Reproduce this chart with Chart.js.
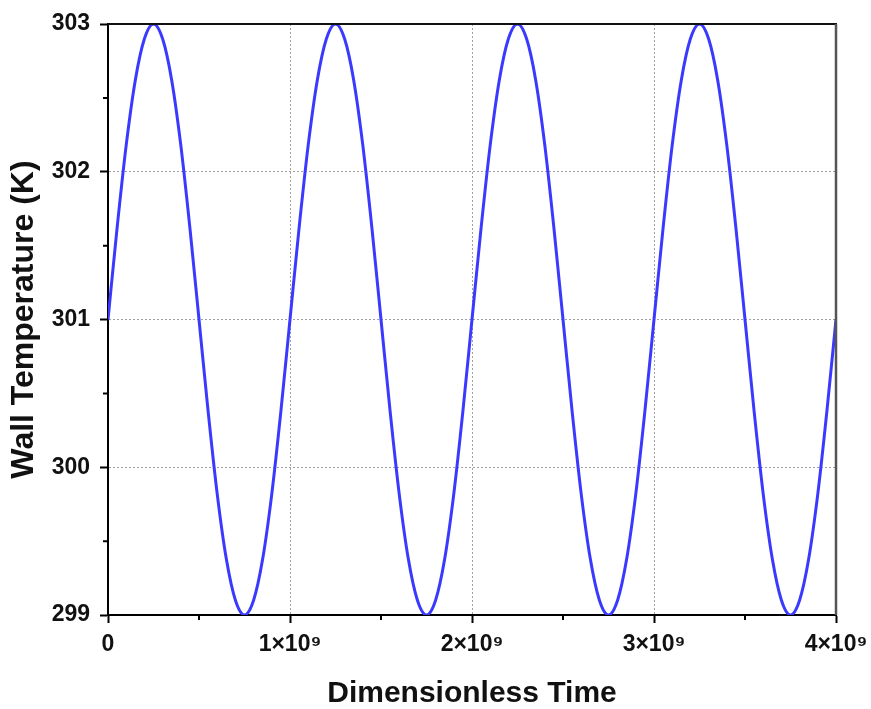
<!DOCTYPE html>
<html>
<head>
<meta charset="utf-8">
<script src="https://cdn.jsdelivr.net/npm/chart.js@4/dist/chart.umd.min.js"></script>
<style>
html,body{margin:0;padding:0;background:#fff;}
#wrap{width:871px;height:709px;position:relative;}
</style>
</head>
<body>
<div id="wrap"><canvas id="c" width="871" height="709"></canvas></div>
<script>
// Dimensionless time (units of 1e9)
const timeE9 = [
 0.00,0.05,0.10,0.15,0.20,0.25,0.30,0.35,0.40,0.45,0.50,0.55,0.60,0.65,0.70,0.75,0.80,0.85,0.90,0.95,
 1.00,1.05,1.10,1.15,1.20,1.25,1.30,1.35,1.40,1.45,1.50,1.55,1.60,1.65,1.70,1.75,1.80,1.85,1.90,1.95,
 2.00,2.05,2.10,2.15,2.20,2.25,2.30,2.35,2.40,2.45,2.50,2.55,2.60,2.65,2.70,2.75,2.80,2.85,2.90,2.95,
 3.00,3.05,3.10,3.15,3.20,3.25,3.30,3.35,3.40,3.45,3.50,3.55,3.60,3.65,3.70,3.75,3.80,3.85,3.90,3.95,
 4.00
];
// Wall temperature (K)
const wallTemp = [
 301.00,301.62,302.18,302.62,302.90,303.00,302.90,302.62,302.18,301.62,301.00,300.38,299.82,299.38,299.10,299.00,299.10,299.38,299.82,300.38,
 301.00,301.62,302.18,302.62,302.90,303.00,302.90,302.62,302.18,301.62,301.00,300.38,299.82,299.38,299.10,299.00,299.10,299.38,299.82,300.38,
 301.00,301.62,302.18,302.62,302.90,303.00,302.90,302.62,302.18,301.62,301.00,300.38,299.82,299.38,299.10,299.00,299.10,299.38,299.82,300.38,
 301.00,301.62,302.18,302.62,302.90,303.00,302.90,302.62,302.18,301.62,301.00,300.38,299.82,299.38,299.10,299.00,299.10,299.38,299.82,300.38,
 301.00
];
const xTickLabels = {0:'0',1:'1×10⁹',2:'2×10⁹',3:'3×10⁹',4:'4×10⁹'};
const yTickLabels = {299:'299',300:'300',301:'301',302:'302',303:'303'};

const xTitle = 'Dimensionless Time';
const yTitle = 'Wall Temperature (K)';

const points = timeE9.map((t,i)=>({x:t, y:wallTemp[i]}));

const isInt = v => Math.abs(v - Math.round(v)) < 1e-6;

const framePlugin = {
  id:'frame',
  afterDraw(chart){
    const {ctx, chartArea:a, scales} = chart;
    ctx.save();
    ctx.strokeStyle = '#000';
    ctx.lineWidth = 2;
    ctx.beginPath();
    scales.x.ticks.forEach(t=>{
      if(!isInt(t.value)){
        const px = scales.x.getPixelForValue(t.value);
        ctx.moveTo(px, a.bottom); ctx.lineTo(px, a.bottom+5);
      }
    });
    scales.y.ticks.forEach(t=>{
      if(!isInt(t.value)){
        const py = scales.y.getPixelForValue(t.value);
        ctx.moveTo(a.left, py); ctx.lineTo(a.left-5, py);
      }
    });
    ctx.stroke();
    ctx.beginPath();
    ctx.strokeStyle = '#111';
    ctx.lineWidth = 2;
    ctx.moveTo(a.left, a.top); ctx.lineTo(a.right+1, a.top);
    ctx.stroke();
    ctx.beginPath();
    ctx.strokeStyle = '#555';
    ctx.lineWidth = 2.5;
    ctx.moveTo(a.right, a.top); ctx.lineTo(a.right, a.bottom);
    ctx.stroke();
    ctx.restore();
  }
};

const gridColor = (ctx, lo, hi) => {
  const v = ctx.tick ? ctx.tick.value : null;
  if (v === null) return 'rgba(0,0,0,0)';
  return (isInt(v) && v > lo && v < hi) ? '#a0a0a0' : 'rgba(0,0,0,0)';
};
const tickColor = ctx => (ctx.tick && isInt(ctx.tick.value)) ? '#000' : 'rgba(0,0,0,0)';
const FONT = 'Liberation Sans, Arial, sans-serif';

new Chart(document.getElementById('c'), {
  type:'line',
  data:{ datasets:[{
    data: points,
    borderColor:'#3a3aff',
    borderWidth:3,
    pointRadius:0,
    fill:false,
    tension:0.4,
    cubicInterpolationMode:'monotone'
  }]},
  options:{
    responsive:false,
    animation:false,
    layout:{padding:{top:24,right:35,left:0,bottom:0}},
    plugins:{legend:{display:false},tooltip:{enabled:false}},
    scales:{
      x:{
        type:'linear', min:0, max:4,
        afterBuildTicks(s){ s.ticks = [0,0.5,1,1.5,2,2.5,3,3.5,4].map(v=>({value:v})); },
        afterFit(s){ s.height = 94; s.paddingLeft = 0; s.paddingRight = 0; },
        ticks:{
          autoSkip:false, maxRotation:0, padding:8,
          color:'#111',
          font:{family:FONT, size:23, weight:'bold'},
          callback:(v)=> isInt(v) ? xTickLabels[Math.round(v)] : ''
        },
        grid:{ color:c=>gridColor(c,0,4), lineWidth:1, tickLength:8, tickWidth:2, tickColor:tickColor, tickBorderDash:[] },
        border:{ display:true, color:'#000', width:2, dash:[2,2] },
        title:{ display:true, text:xTitle, color:'#111', padding:{top:4,bottom:0},
          font:{family:FONT, size:30, weight:'bold', lineHeight:1} }
      },
      y:{
        type:'linear', min:299, max:303,
        afterBuildTicks(s){ s.ticks = [299,299.5,300,300.5,301,301.5,302,302.5,303].map(v=>({value:v})); },
        afterFit(s){ s.width = 108; s.paddingTop = 0; s.paddingBottom = 0; },
        ticks:{
          autoSkip:false, padding:10,
          color:'#111',
          font:{family:FONT, size:23, weight:'bold'},
          callback:(v)=> isInt(v) ? yTickLabels[Math.round(v)] : ''
        },
        grid:{ color:c=>gridColor(c,299,303), lineWidth:1, tickLength:8, tickWidth:2, tickColor:tickColor, tickBorderDash:[] },
        border:{ display:true, color:'#000', width:2, dash:[2,2] },
        title:{ display:true, text:yTitle, color:'#111', padding:{top:8,bottom:0},
          font:{family:FONT, size:32, weight:'bold', lineHeight:1} }
      }
    }
  },
  plugins:[framePlugin]
});
</script>
</body>
</html>
